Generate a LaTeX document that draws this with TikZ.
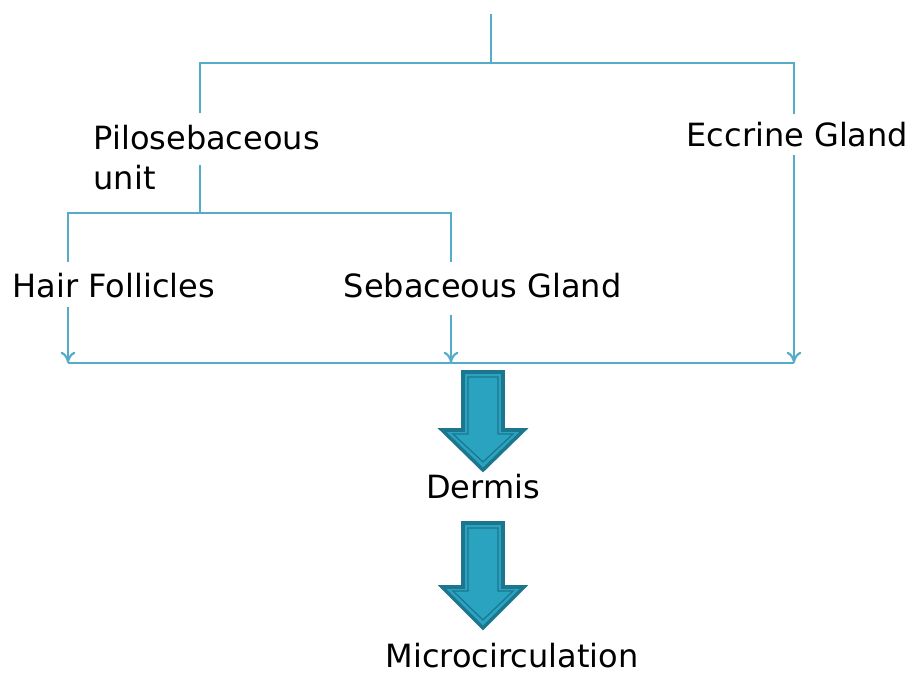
\documentclass[tikz,border=0pt]{standalone}
\usepackage{fontspec}
\setmainfont{DejaVu Sans}
\usetikzlibrary{arrows.meta}

\definecolor{linkblue}{RGB}{84,172,200}
\definecolor{arrowfill}{RGB}{42,163,193}
\definecolor{arrowedge}{RGB}{28,118,142}

\tikzset{
	link/.style={draw=linkblue, line width=0.6pt},
	linkarrow/.style={link, -{To[length=3.2pt,width=4.2pt]}},
	lbl/.style={inner sep=0pt, font=\fontsize{9.1}{11.4}\selectfont},
	bigarrow/.style={fill=arrowfill, draw=arrowedge, line width=1pt, line join=miter},
	bigarrowin/.style={draw=arrowedge, line width=0.35pt, line join=miter}
}

\begin{document}
\begin{tikzpicture}[x=0.01cm, y=-0.01cm]
	\useasboundingbox (0,0) rectangle (905,673);

	%LABELS
	\node[lbl, anchor=north west, align=left] (pilo) at (93,124) {Pilosebaceous\\unit};
	\node[lbl, anchor=base west] (eccrine) at (686,147) {Eccrine Gland};
	\node[lbl, anchor=base west] (hair) at (12,298) {Hair Follicles};
	\node[lbl, anchor=base west] (sebaceous) at (343,298) {Sebaceous Gland};
	\node[lbl, anchor=base] (dermis) at (483,499) {Dermis};
	\node[lbl, anchor=base] (micro) at (512,668) {Microcirculation};

	%JOINTS
	\coordinate (root) at (491,14);
	\coordinate (fork1) at (491,63);
	\coordinate (pilotop) at (200,113);
	\coordinate (eccrinetop) at (794,114);
	\coordinate (pilobot) at (200,165);
	\coordinate (fork2) at (200,213);
	\coordinate (hairtop) at (68,262);
	\coordinate (sebtop) at (451,262);
	\coordinate (hairbot) at (68,307);
	\coordinate (sebbot) at (451,315);
	\coordinate (eccrinebot) at (794,155);
	\coordinate (mergeL) at (68,363);
	\coordinate (mergeM) at (451,363);
	\coordinate (mergeR) at (794,363);

	%TREE
	\draw[link] (root) -- (fork1);
	\draw[link] (pilotop) |- (fork1) -| (eccrinetop);
	\draw[link] (pilobot) -- (fork2);
	\draw[link] (hairtop) |- (fork2) -| (sebtop);

	%INTO THE MERGE LINE
	\draw[linkarrow] (hairbot) -- (mergeL);
	\draw[linkarrow] (sebbot) -- (mergeM);
	\draw[linkarrow] (eccrinebot) -- (mergeR);
	\draw[link] (mergeL) -- (mergeR);

	%BLOCK ARROWS
	\foreach \t/\s/\e in {372/430/470,523/587/628}{
		\filldraw[bigarrow] (463,\t) -- (503,\t) -- (503,\s) -- (524,\s) -- (483,\e) -- (442,\s) -- (463,\s) -- cycle;
		\draw[bigarrowin] (468,\t+5) -- (498,\t+5) -- (498,\s+4) -- (513,\s+4) -- (483,\e-8) -- (453,\s+4) -- (468,\s+4) -- cycle;
	}
\end{tikzpicture}
\end{document}
